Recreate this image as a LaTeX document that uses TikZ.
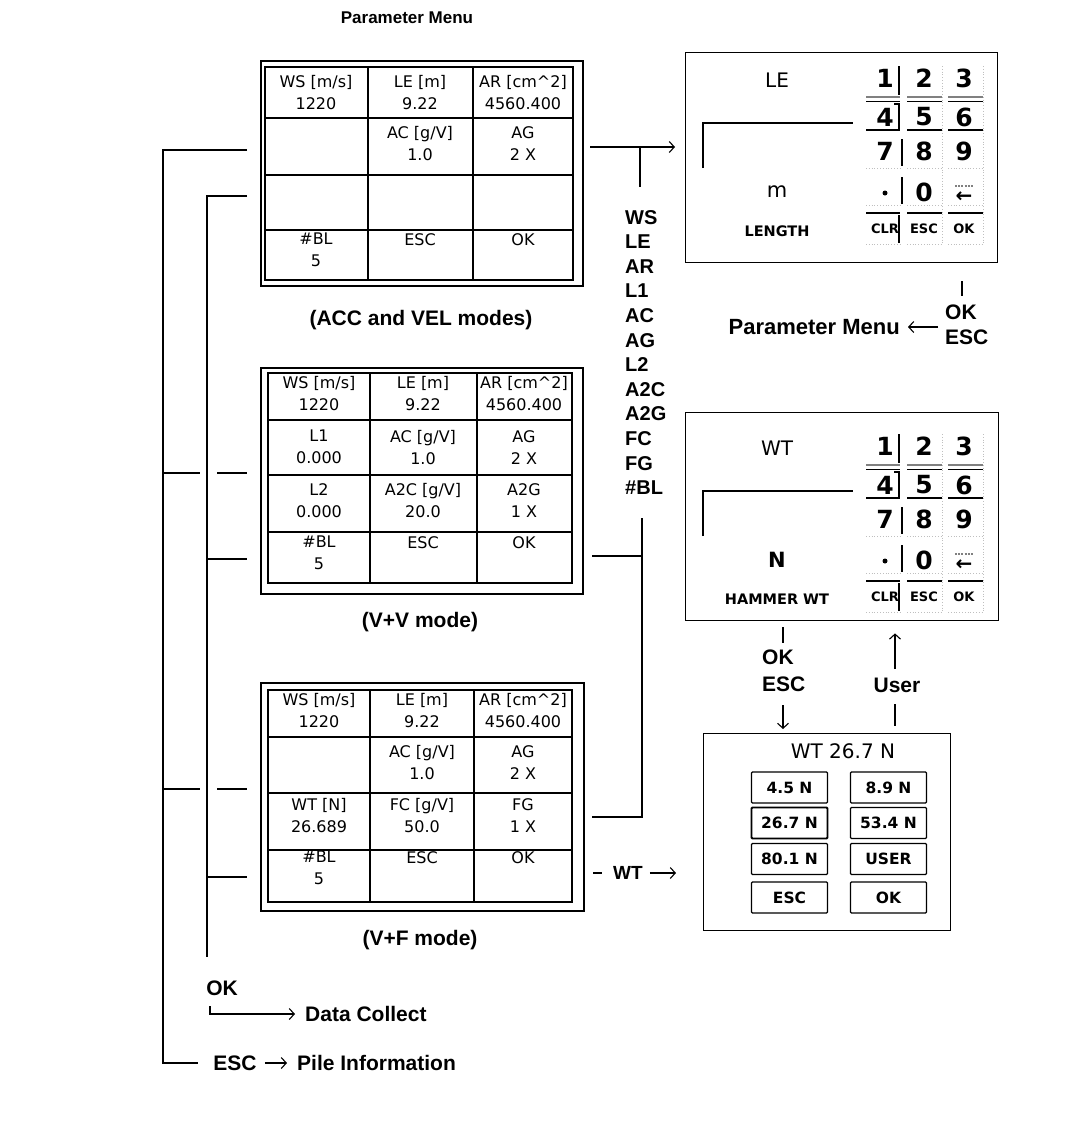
\documentclass[tikz,border=0pt]{standalone}
\usepackage{fontspec}
\setmainfont{Liberation Sans}
\newfontfamily\djf{DejaVu Sans}
\usetikzlibrary{arrows.meta}

\newcommand\kpad[4]{%
  \node[font=\djf\fontsize{20}{20}\selectfont] (#1lab) at (777,80) {#2};
  \draw[conn] (703,168) -- (703,123) -- (853,123);
  \node[font=\djf\fontsize{21}{21}\selectfont] (#1unit) at (777,192) {#3};
  \node[font=\djf\bfseries\fontsize{14.5}{15}\selectfont] (#1name) at (777,231) {#4};
  \node[kd] (#1k1) at (885,78) {1};
  \node[kd] (#1k2) at (924,78) {2};
  \node[kd] (#1k3) at (964,78) {3};
  \node[kd] (#1k4) at (885,117) {4};
  \node[kd] (#1k5) at (924,117) {5};
  \node[kd] (#1k6) at (964,117) {6};
  \node[kd] (#1k7) at (885,151) {7};
  \node[kd] (#1k8) at (924,151) {8};
  \node[kd] (#1k9) at (964,151) {9};
  \node[circle, fill, minimum size=5pt] (#1dot) at (885,193) {};
  \node[kd] (#1k0) at (924,192) {0};
  \node[font=\djf\bfseries\fontsize{20}{20}\selectfont] (#1bs) at (964,197) {←};
  \draw[gray, line width=1.5pt, dash pattern=on 2pt off 1.2pt] (955,186) -- (974,186);
  \node[ks] (#1clr) at (885,229) {CLR};
  \node[ks] (#1esc) at (924,229) {ESC};
  \node[ks] (#1ok) at (964,229) {OK};
  \foreach \xa/\xb in {866/900, 907/942, 948/983} {
    \draw[gray, line width=1.6pt] (\xa,97) -- (\xb,97);
    \draw[conn] (\xa,101.5) -- (\xb,101.5);
    \draw[conn] (\xa,130) -- (\xb,130);
    \draw[gray!50, dotted, line width=0.8pt] (\xa,168) -- (\xb,168);
    \draw[gray!50, dotted, line width=0.8pt] (\xa,205) -- (\xb,205);
    \draw[conn] (\xa,213) -- (\xb,213);
    \draw[gray!50, dotted, line width=0.8pt] (\xa,244) -- (\xb,244);
  }
  \draw[conn] (899,66) -- (899,95);
  \draw[conn] (894,104) -- (899,104) -- (899,129);
  \draw[conn] (902,139) -- (902,166);
  \draw[conn] (902,177) -- (902,204);
  \draw[conn] (899,215) -- (899,243);
  \draw[gray!50, dotted, line width=0.8pt] (942,66) -- (942,243) (983,66) -- (983,243);
}

\begin{document}
\begin{tikzpicture}[x=1pt,y=-1pt,
  every node/.style={inner sep=0pt},
  conn/.style={line width=1.2pt},
  arr/.style={line width=1.1pt, -{Straight Barb[length=5pt,width=11pt]}},
  lbl/.style={font=\bfseries\fontsize{21}{25}\selectfont},
  cell/.style={font=\djf\fontsize{16}{22}\selectfont, align=center, anchor=north},
  tframe/.style={draw, line width=1.6pt, anchor=north west},
  tgrid/.style={line width=1.3pt},
  kbox/.style={draw, line width=1.4pt, anchor=north west},
  kd/.style={font=\djf\bfseries\fontsize{25}{25}\selectfont},
  ks/.style={font=\djf\bfseries\fontsize{13}{13}\selectfont},
  btn/.style={draw, line width=1.3pt, rounded corners=1pt, minimum width=76pt, minimum height=31pt, font=\djf\bfseries\fontsize{15.5}{15.5}\selectfont},
]
\useasboundingbox (0,0) rectangle (1065,1125);

% title
\node[font=\bfseries\fontsize{17}{20}\selectfont] (title) at (407,18) {Parameter Menu};

% ---------- Table A ----------
\node[tframe, minimum width=322pt, minimum height=225pt] (tA) at (260,60) {};
\draw[tgrid] (265,67) rectangle (573,280);
\draw[tgrid] (368,67) -- (368,280) (473,67) -- (473,280)
  (265,118) -- (573,118) (265,175) -- (573,175) (265,230) -- (573,230);
\node[cell] (a11) at (316,75) {WS [m/s]\\1220};
\node[cell] (a12) at (420,75) {LE [m]\\9.22};
\node[cell] (a13) at (523,75) {AR [cm\textasciicircum 2]\\4560.400};
\node[cell] (a22) at (420,126) {AC [g/V]\\1.0};
\node[cell] (a23) at (523,126) {AG\\2 X};
\node[cell] (a41) at (316,233) {\#BL\\5};
\node[cell] (a42) at (420,233) {ESC};
\node[cell] (a43) at (523,233) {OK};
\node[lbl] (capA) at (421,320) {(ACC and VEL modes)};

% ---------- Table B ----------
\node[tframe, minimum width=322pt, minimum height=226pt] (tB) at (260,367) {};
\draw[tgrid] (268,373) rectangle (572,583);
\draw[tgrid] (370,373) -- (370,583) (477,373) -- (477,583)
  (268,420) -- (572,420) (268,475) -- (572,475) (268,532) -- (572,532);
\node[cell] (b11) at (319,376) {WS [m/s]\\1220};
\node[cell] (b12) at (423,376) {LE [m]\\9.22};
\node[cell] (b13) at (524,376) {AR [cm\textasciicircum 2]\\4560.400};
\node[cell] (b21) at (319,430) {L1\\0.000};
\node[cell] (b22) at (423,430) {AC [g/V]\\1.0};
\node[cell] (b23) at (524,430) {AG\\2 X};
\node[cell] (b31) at (319,483) {L2\\0.000};
\node[cell] (b32) at (423,483) {A2C [g/V]\\20.0};
\node[cell] (b33) at (524,483) {A2G\\1 X};
\node[cell] (b41) at (319,536) {\#BL\\5};
\node[cell] (b42) at (423,536) {ESC};
\node[cell] (b43) at (524,536) {OK};
\node[lbl] (capB) at (420,622) {(V+V mode)};

% ---------- Table C ----------
\node[tframe, minimum width=323pt, minimum height=228pt] (tC) at (260,682) {};
\draw[tgrid] (268,690) rectangle (572,902);
\draw[tgrid] (370,690) -- (370,902) (474,690) -- (474,902)
  (268,737) -- (572,737) (268,793) -- (572,793) (268,850) -- (572,850);
\node[cell] (c11) at (319,693) {WS [m/s]\\1220};
\node[cell] (c12) at (422,693) {LE [m]\\9.22};
\node[cell] (c13) at (523,693) {AR [cm\textasciicircum 2]\\4560.400};
\node[cell] (c22) at (422,745) {AC [g/V]\\1.0};
\node[cell] (c23) at (523,745) {AG\\2 X};
\node[cell] (c31) at (319,798) {WT [N]\\26.689};
\node[cell] (c32) at (422,798) {FC [g/V]\\50.0};
\node[cell] (c33) at (523,798) {FG\\1 X};
\node[cell] (c41) at (319,851) {\#BL\\5};
\node[cell] (c42) at (422,851) {ESC};
\node[cell] (c43) at (523,851) {OK};
\node[lbl] (capC) at (420,940) {(V+F mode)};

% ---------- left bus ----------
\coordinate (oTop) at (163,150);
\coordinate (oBot) at (163,1063);
\coordinate (iTop) at (207,196);
\coordinate (iBot) at (207,957);
\draw[conn] (247,150) -- (oTop) -- (oBot) -- (198,1063);
\draw[conn] (247,196) -- (iTop) -- (iBot);
\draw[conn] (163,473) -- (200,473) (217,473) -- (247,473);
\draw[conn] (207,559) -- (247,559);
\draw[conn] (163,789) -- (200,789) (217,789) -- (247,789);
\draw[conn] (207,877) -- (247,877);

\node[lbl] (okB) at (222,988) {OK};
\node[lbl, anchor=west] (dc) at (305,1014) {Data Collect};
\coordinate (okS) at (210,1006);
\draw[arr] (okS) -- (210,1014) -- ([xshift=-10pt]dc.west);
\node[lbl] (escB) at (235,1063) {ESC};
\node[lbl, anchor=west] (pile) at (297,1063) {Pile Information};
\draw[arr] ([xshift=8pt]escB.east) -- ([xshift=-10pt]pile.west);

% ---------- keypads ----------
\node[kbox, minimum width=312pt, minimum height=210pt] (kp1) at (685,52) {};
\node[kbox, minimum width=313pt, minimum height=208pt] (kp2) at (685,412) {};
\kpad{p}{LE}{m}{LENGTH}
\begin{scope}[shift={(0,368)}]
\kpad{q}{WT}{\bfseries N}{HAMMER WT}
\end{scope}

% top table -> keypad 1, with parameter list
\coordinate (aS) at (590,147);
\coordinate (aT) at (640,147);
\draw[arr] (aS) -- ([xshift=-10pt]kp1.west |- aS);
\draw[conn] (aT) -- (640,187);
\node[anchor=north west, align=left, font=\bfseries\fontsize{20}{24.6}\selectfont] (plist) at (625,210)
  {WS\\LE\\AR\\L1\\AC\\AG\\L2\\A2C\\A2G\\FC\\FG\\\#BL};

% middle / bottom tables -> list
\coordinate (rT) at (642,518);
\coordinate (rB) at (642,817);
\draw[conn] (592,556) -- (642,556);
\draw[conn] (rT) -- (rB) -- (592,817);

% WT -> selection box
\draw[conn] (593,873) -- (602,873);
\node[font=\bfseries\fontsize{19}{19}\selectfont] (wtl) at (628,873) {WT};
\draw[arr] ([xshift=7pt]wtl.east) -- (676,873);

% keypad 1 -> Parameter Menu
\draw[conn] (962,281) -- (962,296);
\node[lbl, anchor=north west, align=left] (oe1) at (945,305) {OK\\ESC};
\node[font=\bfseries\fontsize{22}{22}\selectfont, anchor=east] (pm2) at (900,327) {Parameter Menu};
\draw[arr] (938,327) -- ([xshift=8pt]pm2.east);

% keypad 2 <-> WT box
\node[kbox, minimum width=247pt, minimum height=197pt] (wtb) at (703,733) {};
\draw[conn] (783,627) -- (783,643);
\node[lbl, anchor=north west, align=left, font=\bfseries\fontsize{21}{27}\selectfont] (oe2) at (762,650) {OK\\ESC};
\draw[arr] (783,705) -- ([yshift=4pt]wtb.north -| 783,0);
\draw[conn] (895,704) -- (895,726);
\node[lbl] (user) at (897,685) {User};
\draw[arr] (895,669) -- ([yshift=-12pt]kp2.south -| 895,0);

\node[font=\djf\fontsize{20}{20}\selectfont] (wtt) at (843,751) {WT 26.7 N};
\node[btn] (w1) at (789.5,787.5) {4.5 N};
\node[btn] (w2) at (888.5,787.5) {8.9 N};
\node[btn, line width=1.8pt] (w3) at (789.5,823) {26.7 N};
\node[btn] (w4) at (888.5,823) {53.4 N};
\node[btn] (w5) at (789.5,859) {80.1 N};
\node[btn] (w6) at (888.5,859) {USER};
\node[btn] (w7) at (789.5,897.5) {ESC};
\node[btn] (w8) at (888.5,897.5) {OK};
\end{tikzpicture}
\end{document}
